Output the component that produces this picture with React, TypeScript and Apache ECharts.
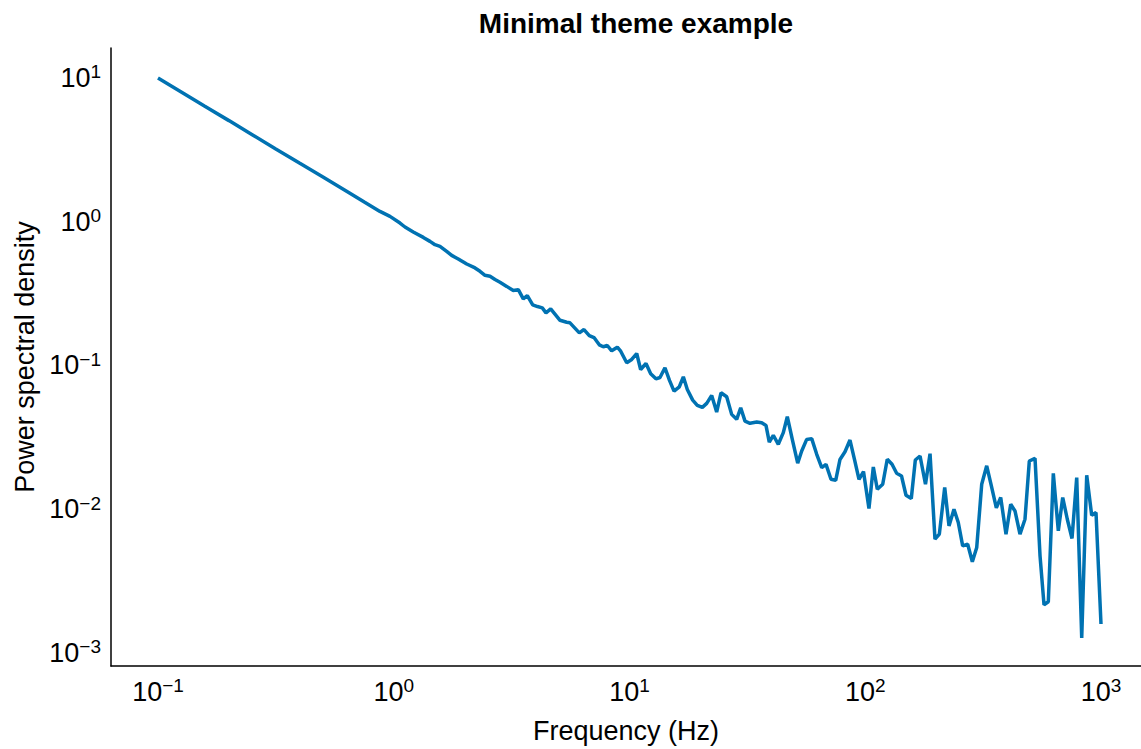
import React, { useEffect, useRef } from "react";
import * as echarts from "echarts";

// Frequencies (Hz) of the plotted samples
const frequencyHz = [
  0.1, 0.126, 0.158, 0.2, 0.251, 0.316, 0.398, 0.501, 0.631, 0.75,
  0.874, 0.964, 1.063, 1.116, 1.21, 1.335, 1.425, 1.496, 1.571, 1.677,
  1.761, 1.878, 2.04, 2.212, 2.322, 2.439, 2.561, 2.689, 2.823, 3.014,
  3.215, 3.376, 3.544, 3.686, 3.886, 4.072, 4.267, 4.424, 4.632, 5.073,
  5.415, 5.593, 6.127, 6.412, 6.753, 7.07, 7.445, 7.743, 8.052, 8.403,
  8.878, 9.178, 9.732, 10.22, 10.73, 11.15, 11.75, 12.3, 12.95, 13.47,
  14.14, 14.78, 15.45, 16.27, 16.92, 17.59, 18.54, 19.39, 20.37, 21.26,
  22.32, 23.43, 24.44, 25.84, 27.13, 28.49, 29.63, 30.9, 32.44, 34.64,
  36.37, 37.93, 39.17, 40.74, 42.78, 44.92, 46.71, 49.04, 51.7, 53.76,
  56.45, 59.28, 62.26, 65.37, 68.17, 71.57, 74.94, 78.15, 82.06, 86.15,
  90.06, 94.08, 98.31, 103.7, 108.2, 112.5, 118.6, 124.0, 129.9, 135.9,
  142.5, 148.9, 156.8, 163.1, 170.8, 180.1, 188.3, 197.6, 206.2, 217.3,
  226.6, 237.9, 248.1, 259.0, 272.0, 284.6, 297.1, 311.9, 327.5, 343.1,
  359.8, 375.5, 395.4, 414.0, 431.7, 453.3, 476.0, 496.5, 525.0, 551.3,
  573.2, 597.8, 627.7, 659.1, 688.1, 719.6, 753.4, 788.9, 828.4, 869.8,
  913.1, 952.4, 1000,
];

// Power spectral density at each frequency
const powerSpectralDensity = [
  10.0, 7.95, 6.35, 5.05, 4.03, 3.21, 2.56, 2.05, 1.63, 1.37,
  1.179, 1.089, 0.979, 0.919, 0.848, 0.778, 0.73, 0.692, 0.674, 0.622,
  0.583, 0.551, 0.508, 0.477, 0.452, 0.424, 0.417, 0.396, 0.379, 0.355,
  0.332, 0.337, 0.2905, 0.306, 0.264, 0.257, 0.2517, 0.2323, 0.2476, 0.2063,
  0.1998, 0.198, 0.1687, 0.1778, 0.1615, 0.1564, 0.1392, 0.1349, 0.1377, 0.1265,
  0.134, 0.1257, 0.1044, 0.1101, 0.1211, 0.0938, 0.1032, 0.0876, 0.0808, 0.0825,
  0.0964, 0.0787, 0.0663, 0.0711, 0.0834, 0.0681, 0.0574, 0.0528, 0.0511, 0.0545,
  0.0619, 0.0474, 0.0646, 0.0606, 0.0457, 0.0422, 0.0508, 0.041, 0.0396, 0.0404,
  0.04, 0.0383, 0.0293, 0.0327, 0.0283, 0.0341, 0.044, 0.0306, 0.0209, 0.0254,
  0.0306, 0.031, 0.0241, 0.0195, 0.0205, 0.01615, 0.0159, 0.0222, 0.0251, 0.0303,
  0.0221, 0.01615, 0.01827, 0.01011, 0.01967, 0.01377, 0.01492, 0.02225, 0.02054, 0.01778,
  0.01703, 0.01251, 0.01187, 0.022, 0.02345, 0.01492, 0.02436, 0.00619, 0.00671, 0.01415,
  0.00766, 0.01, 0.00808, 0.00556, 0.00571, 0.00431, 0.00542, 0.01492, 0.02006, 0.01444,
  0.01021, 0.01206, 0.00671, 0.01083, 0.00973, 0.00671, 0.00852, 0.02164, 0.02261, 0.00474,
  0.002164, 0.002271, 0.01778, 0.00707, 0.01206, 0.00852, 0.00626, 0.0166, 0.001271, 0.01722,
  0.00909, 0.00949, 0.00159,
];

// Tick labels: powers of ten shown on each axis
const xTickExponents = [-1, 0, 1, 2, 3];
const yTickExponents = [-3, -2, -1, 0, 1];

// Axis extents (data units)
const xExtent = [0.0632, 1478];
const yExtent = [0.000812, 16.16];

const FONT = "'Liberation Sans', Arial, Helvetica, sans-serif";

function powerLabel(exponents: number[]) {
  return (value: number) => {
    const lg = Math.log10(value);
    const e = Math.round(lg);
    if (Math.abs(lg - e) > 1e-6 || exponents.indexOf(e) < 0) return "";
    const sup = e < 0 ? "\u2212" + String(-e) : String(e);
    return `{b|10}{s|${sup}}`;
  };
}

const richLabel = {
  b: { fontSize: 27, lineHeight: 31, fontFamily: FONT, color: "#000" },
  s: { fontSize: 19, lineHeight: 19, verticalAlign: "top", fontFamily: FONT, color: "#000" },
};

export default function App() {
  const ref = useRef<HTMLDivElement>(null);

  useEffect(() => {
    if (!ref.current) return;
    const chart = echarts.init(ref.current, undefined, { renderer: "svg" });
    const data = frequencyHz.map((f, i) => [f, powerSpectralDensity[i]]);
    chart.setOption({
      animation: false,
      backgroundColor: "#ffffff",
      title: {
        text: "Minimal theme example",
        left: 631,
        top: 4,
        textAlign: "center",
        textStyle: { fontFamily: FONT, fontSize: 28, fontWeight: "bold", color: "#000" },
      },
      grid: { left: 111, right: 0, top: 48, bottom: 82, containLabel: false },
      xAxis: {
        type: "log",
        logBase: 10,
        min: xExtent[0],
        max: xExtent[1],
        name: "Frequency (Hz)",
        nameLocation: "middle",
        nameGap: 51,
        nameTextStyle: { fontFamily: FONT, fontSize: 27, color: "#000" },
        axisLine: { show: true, onZero: false, lineStyle: { color: "#000", width: 1.5 } },
        axisTick: { show: false },
        splitLine: { show: false },
        minorTick: { show: false },
        axisLabel: {
          margin: 10,
          formatter: powerLabel(xTickExponents),
          rich: richLabel,
          showMinLabel: false,
          showMaxLabel: false,
        },
      },
      yAxis: {
        type: "log",
        logBase: 10,
        min: yExtent[0],
        max: yExtent[1],
        name: "Power spectral density",
        nameLocation: "middle",
        nameGap: 72,
        nameTextStyle: { fontFamily: FONT, fontSize: 27, color: "#000" },
        axisLine: { show: true, onZero: false, lineStyle: { color: "#000", width: 1.5 } },
        axisTick: { show: false },
        splitLine: { show: false },
        minorTick: { show: false },
        axisLabel: {
          margin: 10,
          formatter: powerLabel(yTickExponents),
          rich: richLabel,
          showMinLabel: false,
          showMaxLabel: false,
        },
      },
      series: [
        {
          type: "line",
          data,
          showSymbol: false,
          symbol: "none",
          lineStyle: { color: "#0072B2", width: 3.5 },
          itemStyle: { color: "#0072B2" },
          clip: true,
        },
      ],
    });
    return () => chart.dispose();
  }, []);

  return (
    <div
      ref={ref}
      style={{ position: "fixed", left: 0, top: 0, width: 1141, height: 749, background: "#fff" }}
    />
  );
}
